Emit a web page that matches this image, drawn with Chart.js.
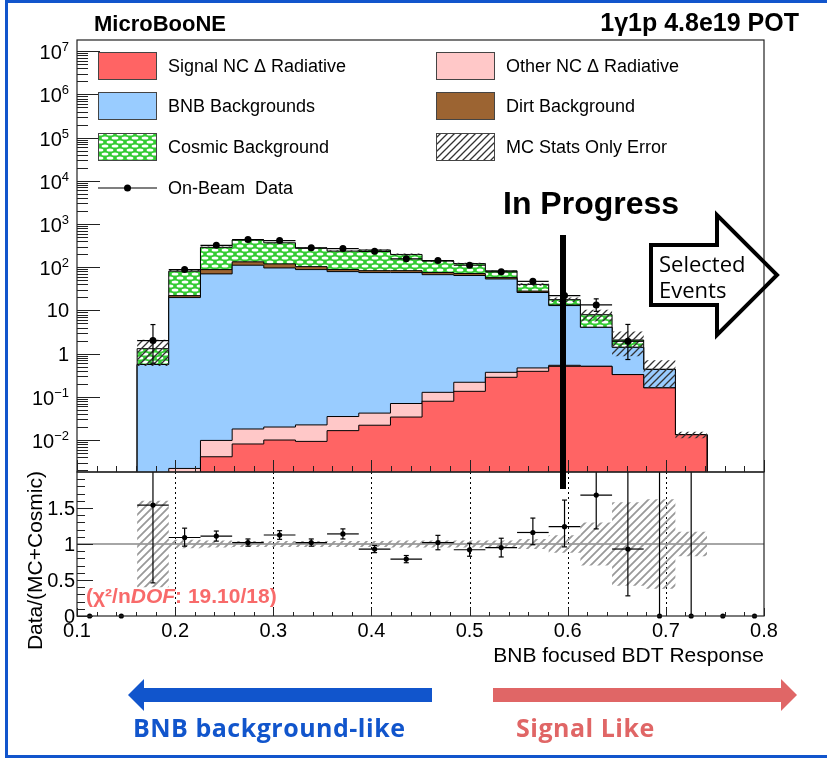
<!DOCTYPE html>
<html>
<head>
<meta charset="utf-8">
<title>1γ1p BDT response</title>
<script src="https://cdn.jsdelivr.net/npm/chart.js@4.4.1/dist/chart.umd.min.js"></script>
<style>
  html, body { margin: 0; padding: 0; background: #fff; }
  #page { position: relative; width: 827px; height: 758px; overflow: hidden; }
  #border { position: absolute; left: 5px; top: 0; width: 900px; height: 758px; box-sizing: border-box; border: 3px solid #1155cc; }
  canvas { position: absolute; left: 0; }
  #mainPlot { top: 0; }
  #ratioPlot { top: 460px; }
  #notes { position: absolute; left: 0; top: 0; }
</style>
</head>
<body>
<div id="page">
  <div id="border"></div>
  <canvas id="mainPlot" width="827" height="480"></canvas>
  <canvas id="ratioPlot" width="827" height="240"></canvas>
  <svg id="notes" width="827" height="758" font-family="Liberation Sans, Arial, sans-serif">
    <text x="94" y="31" font-size="22" font-weight="bold">MicroBooNE</text>
    <text x="799" y="31" font-size="25" font-weight="bold" text-anchor="end">1γ1p 4.8e19 POT</text>
    <text x="503" y="214" font-size="32" font-weight="bold">In Progress</text>
    <rect x="560" y="235" width="6" height="254" fill="#000"/>
    <path d="M651,245 H717 V215 L777,275 L717,335 V305 H651 Z" fill="none" stroke="#000" stroke-width="4" stroke-linejoin="miter"/>
    <text x="659" y="272" font-size="22" font-family="Open Sans, sans-serif">Selected</text>
    <text x="659" y="298" font-size="22" font-family="Open Sans, sans-serif">Events</text>
    <path d="M432,688 H144 V679 L128,695 L144,711 V702 H432 Z" fill="#1155cc"/>
    <path d="M493,688 H781 V679 L797,695 L781,711 V702 H493 Z" fill="#e06666"/>
    <text x="133" y="737" font-size="25" font-weight="bold" letter-spacing="0.5" font-family="Open Sans, sans-serif" fill="#1155cc">BNB background-like</text>
    <text x="516" y="737" font-size="25" font-weight="bold" letter-spacing="0.5" font-family="Open Sans, sans-serif" fill="#e06666">Signal Like</text>
  </svg>
</div>
<script>
/* BDT response binning: 31 bins on [0,1], only 0.1-0.8 is shown */
const binEdges = [0.0968, 0.1290, 0.1613, 0.1935, 0.2258, 0.2581, 0.2903, 0.3226, 0.3548, 0.3871,
  0.4194, 0.4516, 0.4839, 0.5161, 0.5484, 0.5806, 0.6129, 0.6452, 0.6774, 0.7097, 0.7419, 0.7742, 0.8065];

/* stacked prediction per bin (bottom to top) */
const signalNC  = [0, 0, 0, 0, 0.0041, 0.0081, 0.0100, 0.0093, 0.0165, 0.022, 0.034, 0.079, 0.134, 0.283, 0.389, 0.508, 0.508, 0.327, 0.161, 0.0133, 0, 0];
const otherNC   = [0, 0, 0, 0.0022, 0.0057, 0.0099, 0.0100, 0.0131, 0.0185, 0.020, 0.036, 0.048, 0.083, 0.086, 0.077, 0.028, 0, 0, 0, 0, 0, 0];
const bnbBkg    = [0, 0, 0.56, 19.8, 70, 111, 96, 88, 79, 75, 75, 67, 64, 53, 25.5, 12.4, 3.55, 1.07, 0.27, 0, 0, 0];
const dirtBkg   = [0, 0, 0, 2.1, 18, 22, 23, 15, 9, 8, 8, 8, 7, 4, 2, 0.4, 0, 0, 0, 0, 0, 0];
const cosmicBkg = [0, 0, 0.74, 59, 200, 293, 248, 172, 148, 167, 114, 64, 50, 25, 12, 4.4, 3.9, 0.67, 0, 0, 0, 0];
// relative MC statistical error
const mcStatRel = [0, 0, 0.6, 0.06, 0.05, 0.04, 0.04, 0.04, 0.04, 0.04, 0.05, 0.05, 0.05, 0.05, 0.07, 0.12, 0.3, 0.58, 0.62, 0.17, 0, 0];

/* on-beam data */
const onBeam      = [0, 0, 2.0, 88, 320, 435, 413, 280, 269, 233, 156, 142, 111, 78, 47, 22, 13.4, 1.93, 0, 0, 0, 0];
const onBeamErrUp = [0, 0, 2.7, 9.5, 18, 21, 20, 17, 16, 15, 12.5, 12, 10.5, 9, 7, 5, 5.1, 2.8, 0, 0, 0, 0];
const onBeamErrDn = [0, 0, 1.4, 9, 17, 20, 19, 16, 15, 14, 12, 11.5, 10, 8.5, 6.5, 4.5, 3.9, 1.2, 0, 0, 0, 0];

/* data / (MC + cosmic) */
const ratio      = [0, 0, 1.54, 1.09, 1.11, 1.02, 1.125, 1.02, 1.14, 0.93, 0.79, 1.02, 0.92, 0.95, 1.16, 1.24, 1.68, 0.93, 0, 0, 0, 0];
const ratioErrUp = [0, 0, 1.0, 0.13, 0.07, 0.05, 0.06, 0.05, 0.07, 0.05, 0.05, 0.1, 0.09, 0.13, 0.2, 0.37, 0.6, 1.2, 2.5, 2.5, 0, 0];
const ratioErrDn = [0, 0, 1.08, 0.12, 0.07, 0.05, 0.06, 0.05, 0.07, 0.05, 0.05, 0.1, 0.09, 0.13, 0.17, 0.28, 0.47, 0.65, 0, 0, 0, 0];

/* axes */
const xTicks = [0.1, 0.2, 0.3, 0.4, 0.5, 0.6, 0.7, 0.8];
const xTickLabels = ['0.1', '0.2', '0.3', '0.4', '0.5', '0.6', '0.7', '0.8'];
const logExponents = [-2, -1, 0, 1, 2, 3, 4, 5, 6, 7];
const ratioTicks = [0, 0.5, 1, 1.5];
const ratioTickLabels = ['0', '0.5', '1', '1.5'];

const FONT = '"Liberation Sans", Arial, sans-serif';
const SIGNAL = '#ff6464', OTHER = '#ffc8c8', BNB = '#99ccff', DIRT = '#9c6432', GREEN = '#33cc33';
const LOG_FLOOR = 1e-4;   // empty bins sit below the visible log range

/* fill patterns */
function makeTile(w, h, paint) {
  const c = document.createElement('canvas');
  c.width = w; c.height = h;
  paint(c.getContext('2d'));
  return c.getContext('2d').createPattern(c, 'repeat');
}
function hatch(color, lw, s) {
  return makeTile(s, s, g => {
    g.strokeStyle = color; g.lineWidth = lw;
    g.beginPath();
    g.moveTo(-1, s + 1); g.lineTo(s + 1, -1);
    g.moveTo(-s / 2 - 1, s / 2 + 1); g.lineTo(s / 2 + 1, -s / 2 - 1);
    g.moveTo(s / 2 - 1, s * 1.5 + 1); g.lineTo(s * 1.5 + 1, s / 2 - 1);
    g.stroke();
  });
}
const cosmicFill = makeTile(10, 8, g => {
  g.fillStyle = GREEN; g.fillRect(0, 0, 10, 8);
  g.fillStyle = '#fff';
  [[5, 2], [0, 6], [10, 6]].forEach(([cx, cy]) => {
    g.beginPath(); g.ellipse(cx, cy, 3.4, 1.6, 0, 0, Math.PI * 2); g.fill();
  });
});
const statHatch = hatch('#333', 1.3, 7);
const ratioHatch = hatch('#999', 1.8, 8);

const binCenter = i => (binEdges[i] + binEdges[i + 1]) / 2;

// histogram outline as a step line through the bin edges
function steps(vals, base, floor) {
  const f = v => (floor ? Math.max(v, floor) : v);
  const pts = [{x: binEdges[0], y: f(base)}];
  vals.forEach((v, i) => pts.push({x: binEdges[i], y: f(v)}));
  pts.push({x: binEdges[vals.length], y: f(base)});
  return pts;
}

function seg(ctx, x0, y0, x1, y1) {
  ctx.beginPath(); ctx.moveTo(x0, y0); ctx.lineTo(x1, y1); ctx.stroke();
}

/* ---------- main panel ---------- */
const layers = [
  {label: 'Signal NC \u0394 Radiative', vals: signalNC, color: SIGNAL},
  {label: 'Other NC \u0394 Radiative', vals: otherNC, color: OTHER},
  {label: 'BNB Backgrounds', vals: bnbBkg, color: BNB},
  {label: 'Dirt Background', vals: dirtBkg, color: DIRT},
  {label: 'Cosmic Background', vals: cosmicBkg, color: cosmicFill}
];
let running = signalNC.map(() => 0);
const stackSets = layers.map((l, k) => {
  running = running.map((v, i) => v + l.vals[i]);
  return {
    label: l.label, data: steps(running, 0, LOG_FLOOR), stepped: true,
    fill: k === 0 ? 'start' : '-1', backgroundColor: l.color,
    borderColor: '#000', borderWidth: 1, pointRadius: 0, order: 3
  };
});
const mcTotal = running;

const mainDecor = {
  id: 'mainDecor',
  afterDatasetsDraw(chart) {
    const {ctx, chartArea: a, scales: {x, y}} = chart;
    ctx.save();
    ctx.strokeStyle = '#000';
    ctx.lineWidth = 1.2;

    // data error bars
    onBeam.forEach((v, i) => {
      if (!v) return;
      const px = x.getPixelForValue(binCenter(i)), py = y.getPixelForValue(v);
      seg(ctx, x.getPixelForValue(binEdges[i]), py, x.getPixelForValue(binEdges[i + 1]), py);
      const yt = y.getPixelForValue(v + onBeamErrUp[i]);
      const yb = y.getPixelForValue(Math.max(v - onBeamErrDn[i], y.min));
      seg(ctx, px, yt, px, yb);
      if (py - yt > 5) seg(ctx, px - 2.5, yt, px + 2.5, yt);
      if (yb - py > 5) seg(ctx, px - 2.5, yb, px + 2.5, yb);
    });

    // frame
    ctx.lineWidth = 1.2;
    ctx.strokeStyle = '#222';
    ctx.strokeRect(a.left, a.top, a.right - a.left, a.bottom - a.top);

    // log ticks on the left, inward
    ctx.lineWidth = 1;
    for (let e = -3; e <= 7; e++) {
      for (let m = 1; m <= 9; m++) {
        const v = m * Math.pow(10, e);
        if (v < y.min || v > y.max) continue;
        const py = Math.round(y.getPixelForValue(v)) + 0.5;
        seg(ctx, a.left, py, a.left + (m === 1 ? 23 : 11), py);
      }
    }
    // x ticks along the bottom, inward
    for (let k = 5; k <= 40; k++) {
      const px = Math.round(x.getPixelForValue(k / 50)) + 0.5;
      seg(ctx, px, a.bottom, px, a.bottom - (k % 5 === 0 ? 12 : 6));
    }

    // decade labels
    ctx.fillStyle = '#000';
    ctx.textAlign = 'right';
    ctx.textBaseline = 'alphabetic';
    logExponents.forEach(e => {
      const py = y.getPixelForValue(Math.pow(10, e));
      if (e === 0 || e === 1) {
        ctx.font = '20px ' + FONT;
        ctx.fillText(e === 0 ? '1' : '10', 69, py + 7);
        return;
      }
      const ex = e < 0 ? '\u2212' + (-e) : String(e);
      ctx.font = '13px ' + FONT;
      const w = ctx.measureText(ex).width;
      ctx.fillText(ex, 69, py);
      ctx.font = '20px ' + FONT;
      ctx.fillText('10', 69 - w, py + 8);
    });

    // legend
    const rows = [66, 106, 147, 188];
    const cols = [98, 436];
    const items = [
      {text: layers[0].label, fill: SIGNAL, c: 0, r: 0},
      {text: layers[1].label, fill: OTHER, c: 1, r: 0},
      {text: layers[2].label, fill: BNB, c: 0, r: 1},
      {text: layers[3].label, fill: DIRT, c: 1, r: 1},
      {text: layers[4].label, fill: cosmicFill, c: 0, r: 2},
      {text: 'MC Stats Only Error', fill: statHatch, c: 1, r: 2, white: true},
      {text: 'On-Beam  Data', marker: true, c: 0, r: 3}
    ];
    ctx.font = '18px ' + FONT;
    ctx.textAlign = 'left';
    ctx.textBaseline = 'middle';
    items.forEach(it => {
      const bx = cols[it.c], cy = rows[it.r];
      if (it.marker) {
        ctx.strokeStyle = '#000'; ctx.lineWidth = 1.2;
        seg(ctx, bx, cy, bx + 59, cy);
        ctx.fillStyle = '#000';
        ctx.beginPath(); ctx.arc(bx + 29.5, cy, 3.5, 0, Math.PI * 2); ctx.fill();
      } else {
        if (it.white) { ctx.fillStyle = '#fff'; ctx.fillRect(bx, cy - 14, 59, 28); }
        ctx.fillStyle = it.fill;
        ctx.fillRect(bx, cy - 14, 59, 28);
        ctx.strokeStyle = '#444'; ctx.lineWidth = 1;
        ctx.strokeRect(bx + 0.5, cy - 13.5, 58, 27);
      }
      ctx.fillStyle = '#000';
      ctx.fillText(it.text, bx + 70, cy + 1);
    });
    ctx.restore();
  }
};

new Chart(document.getElementById('mainPlot'), {
  type: 'line',
  data: {
    datasets: [
      ...stackSets,
      {label: 'stat low', data: steps(mcTotal.map((t, i) => t * (1 - mcStatRel[i])), 0, LOG_FLOOR), stepped: true,
        fill: false, borderColor: 'rgba(0,0,0,0)', borderWidth: 0, pointRadius: 0, order: 1},
      {label: 'MC Stats Only Error', data: steps(mcTotal.map((t, i) => t * (1 + mcStatRel[i])), 0, LOG_FLOOR), stepped: true,
        fill: '-1', backgroundColor: statHatch, borderColor: 'rgba(0,0,0,0)', borderWidth: 0, pointRadius: 0, order: 1},
      {label: 'On-Beam Data', data: onBeam.map((v, i) => ({x: binCenter(i), y: v > 0 ? v : null})),
        showLine: false, pointRadius: 3.5, pointBackgroundColor: '#000', pointBorderWidth: 0, clip: false, order: 0}
    ]
  },
  options: {
    responsive: false,
    animation: false,
    devicePixelRatio: 1,
    layout: {padding: {left: 77, top: 40, right: 63, bottom: 8}},
    plugins: {legend: {display: false}, tooltip: {enabled: false}},
    scales: {
      x: {type: 'linear', min: 0.1, max: 0.8, bounds: 'data', display: false},
      y: {type: 'logarithmic', min: 0.00182, max: 1.81e7, bounds: 'data', display: false}
    }
  },
  plugins: [mainDecor]
});

/* ---------- ratio panel ---------- */
const ratioDecor = {
  id: 'ratioDecor',
  beforeDatasetsDraw(chart) {
    const {ctx, chartArea: a, scales: {x, y}} = chart;
    ctx.save();
    ctx.strokeStyle = '#000';
    ctx.lineWidth = 1;
    ctx.setLineDash([2, 3]);
    xTicks.slice(1, -1).forEach(t => {
      const px = Math.round(x.getPixelForValue(t)) + 0.5;
      seg(ctx, px, a.top, px, a.bottom);
    });
    ctx.setLineDash([]);
    ctx.strokeStyle = '#888';
    ctx.lineWidth = 1.6;
    const p1 = y.getPixelForValue(1);
    seg(ctx, a.left, p1, a.right, p1);
    ctx.restore();
  },
  afterDatasetsDraw(chart) {
    const {ctx, chartArea: a, scales: {x, y}} = chart;
    ctx.save();
    ctx.strokeStyle = '#000';
    ctx.lineWidth = 1.2;
    const clampY = v => y.getPixelForValue(Math.min(Math.max(v, 0), 2));
    ratio.forEach((r, i) => {
      const px = x.getPixelForValue(binCenter(i));
      if (r > 0) {
        const py = y.getPixelForValue(r);
        seg(ctx, x.getPixelForValue(binEdges[i]), py, x.getPixelForValue(binEdges[i + 1]), py);
      }
      if (ratioErrUp[i] > 0) {
        const yt = clampY(r + ratioErrUp[i]), yb = clampY(r - ratioErrDn[i]);
        seg(ctx, px, yt, px, yb);
        if (r + ratioErrUp[i] < 2) seg(ctx, px - 2.5, yt, px + 2.5, yt);
        if (r - ratioErrDn[i] > 0) seg(ctx, px - 2.5, yb, px + 2.5, yb);
      }
    });

    // frame
    ctx.strokeStyle = '#222';
    ctx.strokeRect(a.left, a.top, a.right - a.left, a.bottom - a.top);

    // ticks
    ctx.lineWidth = 1;
    for (let k = 0; k < 20; k++) {
      const py = Math.round(y.getPixelForValue(k / 10)) + 0.5;
      seg(ctx, a.left, py, a.left + (k % 5 === 0 ? 16 : 8), py);
    }
    for (let k = 5; k <= 40; k++) {
      const px = Math.round(x.getPixelForValue(k / 50)) + 0.5;
      seg(ctx, px, a.bottom, px, a.bottom - (k % 5 === 0 ? 8 : 4));
    }

    // tick labels
    ctx.fillStyle = '#000';
    ctx.font = '20px ' + FONT;
    ctx.textAlign = 'right';
    ratioTicks.forEach((t, k) => ctx.fillText(ratioTickLabels[k], 75, y.getPixelForValue(t) + 7));
    ctx.textAlign = 'center';
    xTicks.forEach((t, k) => ctx.fillText(xTickLabels[k], x.getPixelForValue(t), a.bottom + 21));

    // axis titles
    ctx.font = '21px ' + FONT;
    ctx.textAlign = 'right';
    ctx.fillText('BNB focused BDT Response', a.right, a.bottom + 46);
    ctx.save();
    ctx.translate(42, a.top - 1);
    ctx.rotate(-Math.PI / 2);
    ctx.fillText('Data/(MC+Cosmic)', 0, 0);
    ctx.restore();

    // goodness of fit
    ctx.fillStyle = '#f86a6a';
    ctx.textAlign = 'left';
    let tx = 86;
    const by = a.bottom - 13;
    [['(\u03c7\u00b2/n', 'bold'], ['DOF', 'italic bold'], [': 19.10/18)', 'bold']].forEach(([s, f]) => {
      ctx.font = f + ' 21px ' + FONT;
      ctx.fillText(s, tx, by);
      tx += ctx.measureText(s).width;
    });
    ctx.restore();
  }
};

new Chart(document.getElementById('ratioPlot'), {
  type: 'line',
  data: {
    datasets: [
      {label: 'Data/(MC+Cosmic)', data: ratio.map((r, i) => ({x: binCenter(i), y: r})),
        showLine: false, pointRadius: 2.6, pointBackgroundColor: '#000', pointBorderWidth: 0, clip: false, order: 0},
      {label: 'band low', data: steps(mcStatRel.map(e => 1 - e), 1), stepped: true,
        fill: false, borderColor: 'rgba(0,0,0,0)', borderWidth: 0, pointRadius: 0, order: 1},
      {label: 'MC stat band', data: steps(mcStatRel.map(e => 1 + e), 1), stepped: true,
        fill: '-1', backgroundColor: ratioHatch, borderColor: 'rgba(0,0,0,0)', borderWidth: 0, pointRadius: 0, order: 1}
    ]
  },
  options: {
    responsive: false,
    animation: false,
    devicePixelRatio: 1,
    layout: {padding: {left: 77, top: 12, right: 63, bottom: 84}},
    plugins: {legend: {display: false}, tooltip: {enabled: false}},
    scales: {
      x: {type: 'linear', min: 0.1, max: 0.8, bounds: 'data', display: false},
      y: {type: 'linear', min: 0, max: 2, bounds: 'data', display: false}
    }
  },
  plugins: [ratioDecor]
});
</script>
</body>
</html>
